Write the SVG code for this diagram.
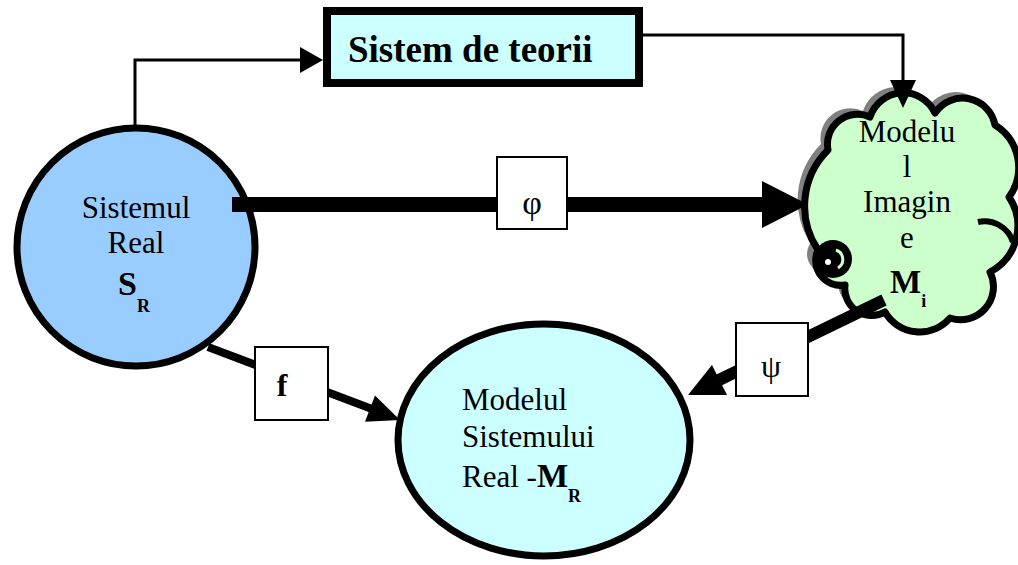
<svg xmlns="http://www.w3.org/2000/svg" width="1018" height="565" viewBox="0 0 1018 565">
  <defs>
    <style>
      text { font-family: "Liberation Serif", "DejaVu Serif", serif; fill: #000; }
      .lbl { font-size: 31px; font-weight: normal; }
      .b { font-weight: bold; }
      .wire { fill: none; stroke: #000; stroke-linecap: butt; }
      .head { fill: #000; stroke: none; }
      .tag { fill: #fff; stroke: #000; stroke-width: 2; }
    </style>
    <path id="cloudShape" d="M 818 250 A 79 79 0 0 1 828 150 A 30 30 0 0 1 870 117 A 35 35 0 0 1 935 113 A 33 33 0 0 1 995 125 A 50 50 0 0 1 1009 197 A 52 52 0 0 1 990 272 A 33 33 0 0 1 950 318 A 40 40 0 0 1 885 312 A 27 27 0 0 1 845 285 A 25 25 0 0 1 818 250 Z"/>
  </defs>

  <rect width="1018" height="565" fill="#fff"/>

  <!-- Sistemul Real -->
  <g id="sistemul-real">
    <circle cx="136" cy="247" r="119" fill="#99CCFF" stroke="#000" stroke-width="7"/>
    <text class="lbl" x="136" y="218" text-anchor="middle">Sistemul</text>
    <text class="lbl" x="136" y="253" text-anchor="middle">Real</text>
    <text class="b" x="118" y="295" font-size="34">S<tspan font-size="18" dy="17">R</tspan></text>
  </g>

  <!-- Sistem de teorii -->
  <g id="sistem-de-teorii">
    <rect x="327" y="11" width="312" height="72" fill="#CCFFFF" stroke="#000" stroke-width="8"/>
    <text class="b" x="348" y="62" font-size="37">Sistem de teorii</text>
  </g>

  <!-- Modelul Imagine (cloud) -->
  <g id="modelul-imagine">
    <use href="#cloudShape" transform="translate(-7,-6)" fill="#808080"/>
    <circle cx="826" cy="254" r="19" fill="#808080"/>
    <use href="#cloudShape" fill="#CCFFCC"/>
    <text class="lbl" x="907" y="142" text-anchor="middle">Modelu</text>
    <text class="lbl" x="907" y="177" text-anchor="middle">l</text>
    <text class="lbl" x="907" y="212" text-anchor="middle">Imagin</text>
    <text class="lbl" x="907" y="248" text-anchor="middle">e</text>
    <text class="b" x="890" y="293" font-size="33">M<tspan font-size="18" dy="14">i</tspan></text>
    <use href="#cloudShape" fill="none" stroke="#000" stroke-width="7" stroke-linejoin="round"/>
    <path d="M 978 222 A 30 30 0 0 1 1013 242" fill="none" stroke="#000" stroke-width="6"/>
    <circle cx="833" cy="259" r="19" fill="#000"/>
    <path d="M 836 250 A 10 10 0 0 1 838 268" fill="none" stroke="#CCFFCC" stroke-width="3"/>
    <circle cx="828" cy="262" r="3" fill="#fff"/>
  </g>

  <!-- Modelul Sistemului Real -->
  <g id="modelul-sistemului-real">
    <ellipse cx="544" cy="440" rx="146" ry="116" fill="#CCFFFF" stroke="#000" stroke-width="7"/>
    <text class="lbl" x="462" y="410">Modelul</text>
    <text class="lbl" x="462" y="447">Sistemului</text>
    <text class="lbl" x="462" y="487">Real -<tspan class="b" font-size="33">M</tspan><tspan class="b" font-size="18" dy="15">R</tspan></text>
  </g>

  <!-- connectors -->
  <g id="connectors">
    <!-- Sistemul Real -> Sistem de teorii -->
    <polyline class="wire" stroke-width="3" points="135,128 135,60 302,60"/>
    <polygon class="head" points="300,47 323,60 300,73"/>
    <!-- Sistem de teorii -> Modelul Imagine -->
    <polyline class="wire" stroke-width="3" points="643,35 903,35 903,82"/>
    <polygon class="head" points="890,80 916,80 903,108"/>
    <!-- phi -->
    <line class="wire" stroke-width="15" x1="232" y1="204.5" x2="765" y2="204.5"/>
    <polygon class="head" points="762,181 808,204.5 762,228"/>
    <!-- f -->
    <line class="wire" stroke-width="8" x1="208" y1="347" x2="372" y2="409"/>
    <polygon class="head" points="375,395.5 400,420 365,421.7"/>
    <!-- psi -->
    <line class="wire" stroke-width="12" x1="884" y1="300" x2="719" y2="380"/>
    <polygon class="head" points="712,365 688,395 727,395"/>
  </g>

  <!-- mapping labels -->
  <g id="label-phi">
    <rect class="tag" x="497" y="157" width="70" height="72"/>
    <text x="532" y="214" text-anchor="middle" font-size="34">φ</text>
  </g>
  <g id="label-f">
    <rect class="tag" x="255" y="347" width="73" height="73"/>
    <text class="b" x="282" y="396" text-anchor="middle" font-size="32">f</text>
  </g>
  <g id="label-psi">
    <rect class="tag" x="736" y="323" width="72" height="73"/>
    <text x="771" y="377" text-anchor="middle" font-size="32">ψ</text>
  </g>
</svg>
